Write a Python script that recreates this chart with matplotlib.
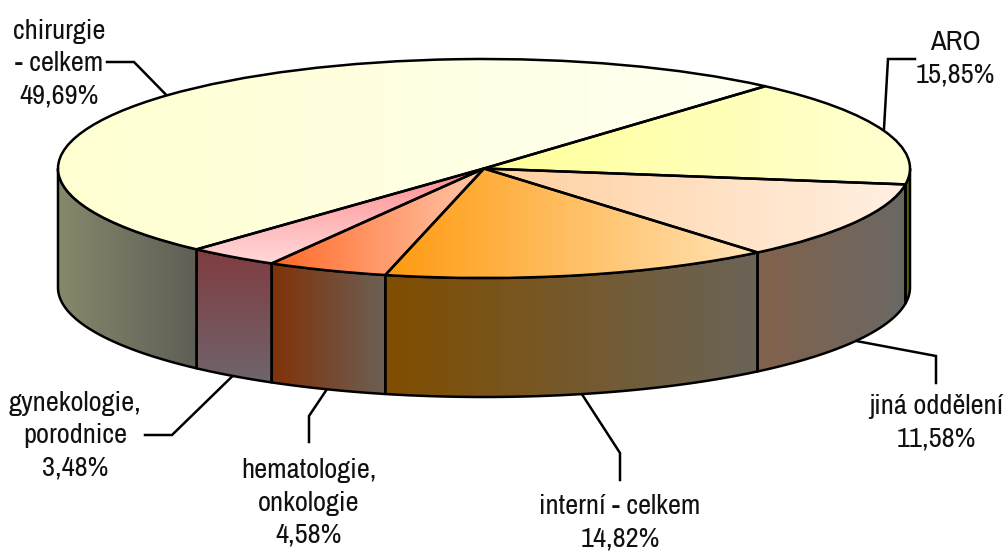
import numpy as np
import matplotlib
matplotlib.use("Agg")
import matplotlib.pyplot as plt
from matplotlib.colors import to_rgb
from matplotlib.patches import Polygon

# --- data ---
categories = ["ARO", "jiná oddělení", "interní - celkem", "hematologie,\nonkologie",
              "gynekologie,\nporodnice", "chirurgie\n- celkem"]
values = [15.85, 11.58, 14.82, 4.58, 3.48, 49.69]

# --- styles ---
top_grad = [("#FFFF99", "#FFFFD2", "x"), ("#FFCF9F", "#FFF0E2", "x"), ("#FF9A10", "#FFE4B8", "x"),
            ("#FF6A28", "#FFC8AC", "x"), ("#FF8C90", "#FFD8D8", "y"), ("#FFFFD2", "#FFFFF2", "x")]
side_grad = [("#666600", "#666600", "x"), ("#82624C", "#6A6864", "x"), ("#804E00", "#6A6458", "x"),
             ("#803208", "#6C6056", "x"), ("#803C40", "#70646C", "y"), ("#88886C", "#5E5E56", "x")]

W, H = 1008, 555
CX, CY, RX, RY, DEPTH = 484, 168.5, 426, 109.5, 119
START = 48.7
EDGE = 1.8

fig = plt.figure(figsize=(W / 100, H / 100), dpi=100)
ax = fig.add_axes([0, 0, 1, 1])
XL = ((0 - CX) / RX, (W - CX) / RX)
YL = ((CY - H) / RY, CY / RY)
d = DEPTH / RY


def px(x, y):
    return (x - CX) / RX, (CY - y) / RY


def gradient(clip, bbox, grad, z):
    c0, c1, mode = grad
    x0, x1, y0, y1 = bbox
    s = np.linspace(0, 1, 256)
    ramp = np.outer(1 - s, to_rgb(c0)) + np.outer(s, to_rgb(c1))
    img = ramp[None, :, :] if mode == "x" else ramp[::-1][:, None, :]
    im = ax.imshow(img, extent=(x0, x1, y0, y1), aspect="auto", zorder=z,
                   interpolation="bilinear", origin="lower")
    im.set_clip_path(clip)


frac = np.array(values) / sum(values)
edges = START - np.concatenate([[0], np.cumsum(frac)]) * 360
mids = (edges[:-1] + edges[1:]) / 2

# side walls: only the front half (angles from 0 to -180) can be seen
for i, (a, b) in enumerate(zip(edges[:-1], edges[1:])):
    a2, b2 = min(a, 0), max(b, -180)
    if a2 <= b2:
        continue
    t = np.radians(np.linspace(a2, b2, 120))
    xs, ys = np.cos(t), np.sin(t)
    verts = np.vstack([np.c_[xs, ys], np.c_[xs[::-1], ys[::-1] - d]])
    poly = Polygon(verts, closed=True, fc="none", ec="black", lw=EDGE, zorder=3, joinstyle="round")
    clip = Polygon(verts, closed=True, fc="none", ec="none", zorder=1)
    ax.add_patch(clip)
    ax.add_patch(poly)
    gradient(clip, (xs.min(), xs.max(), verts[:, 1].min(), verts[:, 1].max()), side_grad[i], 2)

# top face
fills, _ = ax.pie(values, startangle=START, counterclock=False, radius=1, center=(0, 0),
                  wedgeprops=dict(fc="none", ec="none"), normalize=True)
for w in fills:
    w.set_zorder(4)
for i, (w, a, b) in enumerate(zip(fills, edges[:-1], edges[1:])):
    t = np.radians(np.linspace(a, b, 200))
    xs = np.r_[0, np.cos(t)]
    ys = np.r_[0, np.sin(t)]
    gradient(w, (xs.min(), xs.max(), ys.min(), ys.max()), top_grad[i], 5)
outlines, _ = ax.pie(values, startangle=START, counterclock=False, radius=1, center=(0, 0),
                     wedgeprops=dict(fc="none", ec="black", lw=EDGE, joinstyle="round"), normalize=True)
for w in outlines:
    w.set_zorder(6)

# labels and leaders
font = ["Archivo Narrow", "Liberation Sans", "DejaVu Sans"]
label_xy = [(955, 59), (936, 423), (620, 523), (309, 503), (75, 436), (59, 64)]
elbows = [[(915, 59), (888, 59)], [(936, 383), (936, 356)], [(620, 480), (620, 453)],
          [(309, 442), (309, 416)], [(145, 435), (172, 435)], [(107, 62), (134, 62)]]
for i, m in enumerate(mids):
    tm = np.radians(m)
    ax_x, ax_y = np.cos(tm), np.sin(tm)
    if np.sin(tm) < 0:
        ax_y -= d
    pts = [px(*p) for p in elbows[i]] + [(ax_x, ax_y)]
    ax.plot(*zip(*pts), color="black", lw=EDGE, zorder=1, solid_joinstyle="miter")
    text = f"{categories[i]}\n{values[i]:.2f}".replace(".", ",") + "%"
    lx, ly = px(*label_xy[i])
    ax.text(lx, ly, text, ha="center", va="center", fontsize=20.5, family=font,
            color="#111111", linespacing=1.36, zorder=7)

ax.set_aspect("auto")
ax.set_xlim(*XL)
ax.set_ylim(*YL)
ax.set_axis_off()
fig.savefig("out.png", dpi=100, facecolor="white")
